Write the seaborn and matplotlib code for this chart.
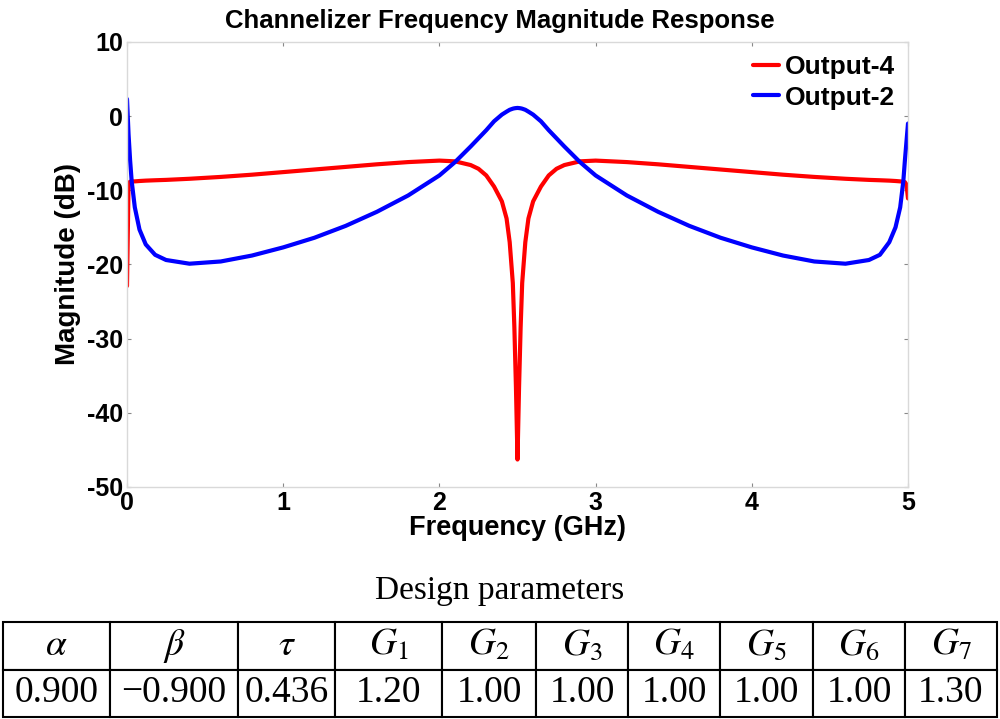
import seaborn as sns
import matplotlib.pyplot as plt
import pandas as pd
import numpy as np

# frequency samples (GHz)
freq = [0, 0.01, 0.02, 0.03, 0.05, 0.08, 0.12, 0.18, 0.25, 0.4, 0.6, 0.8, 1.0, 1.2, 1.4,
        1.6, 1.8, 2.0, 2.1, 2.2, 2.25, 2.3, 2.35, 2.4, 2.43, 2.45, 2.47, 2.48, 2.49, 2.5,
        2.51, 2.52, 2.53, 2.55, 2.57, 2.6, 2.65, 2.7, 2.75, 2.8, 2.9, 3.0, 3.2, 3.4, 3.6,
        3.8, 4.0, 4.2, 4.4, 4.6, 4.75, 4.82, 4.88, 4.92, 4.95, 4.97, 4.98, 4.99, 5.0]

output4 = [-22.9, -9.0, -8.85, -8.8, -8.8, -8.75, -8.7, -8.65, -8.6, -8.45, -8.2, -7.9, -7.55, -7.2, -6.85,
           -6.5, -6.2, -6.0, -6.1, -6.6, -7.1, -8.0, -9.5, -11.5, -13.8, -17.0, -22.5, -28.5, -36.5, -46.3,
           -36.5, -28.5, -22.5, -17.0, -13.8, -11.5, -9.5, -8.0, -7.1, -6.6, -6.1, -6.0, -6.2, -6.5, -6.85,
           -7.2, -7.55, -7.9, -8.2, -8.45, -8.6, -8.65, -8.7, -8.75, -8.8, -8.85, -8.9, -9.2, -11.1]

output2 = [2.3, -2.5, -6.0, -8.8, -12.3, -15.3, -17.3, -18.7, -19.4, -19.9, -19.6, -18.8, -17.7, -16.4, -14.8,
           -12.9, -10.7, -8.0, -6.2, -4.1, -3.0, -1.9, -0.7, 0.2, 0.6, 0.85, 1.0, 1.05, 1.08, 1.1,
           1.08, 1.05, 1.0, 0.85, 0.6, 0.2, -0.7, -1.9, -3.0, -4.1, -6.2, -8.0, -10.7, -12.9, -14.8,
           -16.4, -17.7, -18.8, -19.6, -19.9, -19.4, -18.7, -17.0, -15.0, -12.3, -8.8, -6.0, -3.5, -1.0]

param_names = [r'$\alpha$', r'$\beta$', r'$\tau$', r'$G_1$', r'$G_2$', r'$G_3$',
               r'$G_4$', r'$G_5$', r'$G_6$', r'$G_7$']
param_values = ['0.900', '\u22120.900', '0.436', '1.20', '1.00', '1.00',
                '1.00', '1.00', '1.00', '1.30']

df = pd.DataFrame({
    'Frequency': freq * 2,
    'Magnitude': output4 + output2,
    'Output': ['Output-4'] * len(freq) + ['Output-2'] * len(freq),
})

sns.set_style('white')
plt.rcParams['font.family'] = ['Liberation Sans', 'DejaVu Sans']
plt.rcParams['mathtext.fontset'] = 'stix'
plt.rcParams['axes.unicode_minus'] = False
plt.rcParams['text.color'] = 'black'
plt.rcParams['axes.labelcolor'] = 'black'

fig = plt.figure(figsize=(10, 7.19), dpi=100)
ax = fig.add_axes([0.127, 0.3227, 0.781, 0.619])

sns.lineplot(data=df, x='Frequency', y='Magnitude', hue='Output',
             hue_order=['Output-4', 'Output-2'],
             palette={'Output-4': '#ff0000', 'Output-2': '#0000ff'},
             estimator=None, sort=False, linewidth=3, ax=ax)

ax.set_xlim(0, 5)
ax.set_ylim(-50, 10)
ax.set_xticks([0, 1, 2, 3, 4, 5])
ax.set_yticks([-50, -40, -30, -20, -10, 0, 10])
for s in ax.spines.values():
    s.set_color('#d9d9d9')
    s.set_linewidth(1)
ax.tick_params(direction='in', length=3, width=0.8, color='#888888', labelcolor='black',
               labelsize=18, pad=3, top=True, right=True, bottom=True, left=True)
for lab in ax.get_xticklabels() + ax.get_yticklabels():
    lab.set_fontweight('bold')

# title sits centred on the figure, not the axes
ax.set_title('Channelizer Frequency Magnitude Response', fontsize=18.5,
             fontweight='bold', pad=10, color='black', x=(500 - 127) / 781)
ax.set_xlabel('Frequency (GHz)', fontsize=19.5, fontweight='bold', labelpad=0)
ax.set_ylabel('Magnitude (dB)', fontsize=20, fontweight='bold', labelpad=4)

leg = ax.legend(loc='upper right', frameon=False, fontsize=19, handlelength=1.0,
                handletextpad=0.2, labelspacing=0.25, borderaxespad=0.2,
                borderpad=0.3)
for t in leg.get_texts():
    t.set_fontweight('bold')
    t.set_color('black')

# design parameter table
fig.text(0.5, 0.178, 'Design parameters', ha='center', va='center',
         fontsize=24, family='Liberation Serif')

col_edges = [3, 110, 238, 335, 442, 536, 628, 720, 813, 905, 997]
widths = np.diff(col_edges) / (col_edges[-1] - col_edges[0])
tax = fig.add_axes([0.003, 1 - 717 / 719, 0.994, 95 / 719])
tax.axis('off')
tbl = tax.table(cellText=[param_names, param_values], colWidths=list(widths),
                cellLoc='center', bbox=[0, 0, 1, 1])
tbl.auto_set_font_size(False)
for (r, c), cell in tbl.get_celld().items():
    cell.set_linewidth(1.5)
    cell.set_edgecolor('black')
    cell.get_text().set_fontsize(27)
    cell.get_text().set_family('Liberation Serif')
    cell.get_text().set_color('black')

fig.savefig('out.png', dpi=100)
